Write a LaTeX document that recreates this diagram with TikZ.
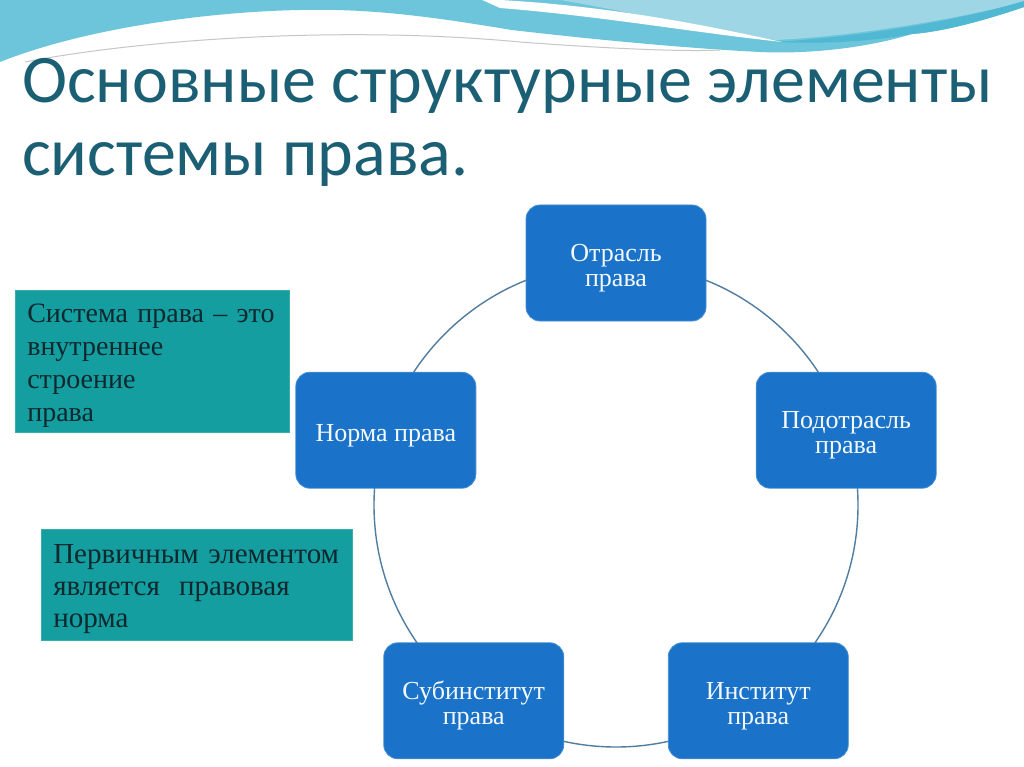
\documentclass[tikz,border=0pt]{standalone}
\usepackage{fontspec}
\usetikzlibrary{calc}
\setmainfont{Liberation Serif}
\newfontfamily\titlefont{Carlito}
\newcommand{\topstrut}[1]{\rule{0pt}{#1}}
\definecolor{boxblue}{RGB}{26,115,200}
\definecolor{tealbox}{RGB}{20,158,160}
\definecolor{tealtext}{RGB}{14,40,46}
\definecolor{titlecol}{RGB}{26,95,115}
\definecolor{ringcol}{RGB}{80,125,160}
\definecolor{waveA}{RGB}{108,197,218}
\definecolor{waveB}{RGB}{158,214,230}
\definecolor{waveC}{RGB}{80,184,210}
\begin{document}
\begin{tikzpicture}[x=1pt,y=-1pt,
  elem/.style={draw=boxblue!80!white, line width=0.8pt, fill=boxblue, rounded corners=14pt,
    minimum width=180pt, minimum height=116pt, text=white!95!boxblue, align=center,
    font=\fontsize{26}{25}\selectfont, inner sep=0pt},
  note/.style={fill=tealbox, draw=tealbox!85!white, line width=0.6pt, text=tealtext, align=left,
    inner xsep=12pt, inner ysep=0pt, anchor=north west},
  ring/.style={draw=ringcol, line width=1.4pt},
  titletext/.style={text=titlecol, font=\titlefont\fontsize{68}{68}\selectfont, anchor=base west, inner sep=0pt}
]
\useasboundingbox (0,0) rectangle (1024,767);
\fill[white] (0,0) rectangle (1024,767);
% waves
\fill[waveA] (0,0) -- (1024,0) -- (1024,7) .. controls (980,22) and (940,32) .. (912,34)
  .. controls (860,50) and (800,54) .. (760,52) .. controls (680,48) and (580,38) .. (512,30)
  .. controls (450,20) and (380,8) .. (300,10) .. controls (200,12) and (80,30) .. (0,62) -- cycle;
\fill[waveB] (560,0) -- (1024,0) -- (1024,2) .. controls (960,18) and (860,36) .. (775,40)
  .. controls (700,28) and (620,10) .. (560,0) -- cycle;
\fill[waveC] (640,0) -- (1024,0) -- (1024,7) .. controls (980,22) and (940,32) .. (912,34)
  .. controls (870,42) and (820,44) .. (775,42) .. controls (870,36) and (960,20) .. (1024,1) -- (1024,0) -- cycle;
\fill[white] (480,-1) .. controls (600,4) and (700,24) .. (782,42)
  .. controls (690,32) and (600,16) .. (500,8) -- (480,-1) -- cycle;
\draw[gray!45, line width=1pt] (25,62) .. controls (150,38) and (350,26) .. (520,42) .. controls (600,48) and (680,52) .. (720,50);
% title
\node[titletext] (t1) at (22,103) {Основные структурные элементы};
\node[titletext] (t2) at (22,176) {системы права.};
% ring
\coordinate (hub) at (616,505);
\draw[ring] (hub) circle[radius=242];
\node[elem] (otr) at ($(hub)+(-90:242)$) {\topstrut{28pt}Отрасль\\права};
\node[elem] (podotr) at ($(hub)+(-18:242)$) {\topstrut{28pt}Подотрасль\\права};
\node[elem] (inst) at ($(hub)+(54:242)$) {\topstrut{28pt}Институт\\права};
\node[elem] (subinst) at ($(hub)+(126:242)$) {\topstrut{28pt}Субинститут\\права};
\node[elem] (norma) at ($(hub)+(198:242)$) {\topstrut{28pt}Норма права};
% notes
\node[note, font=\fontsize{28}{33}\selectfont, minimum width=274pt, minimum height=142pt, text width=250pt] (n1) at (15,290)
  {\topstrut{28pt}Система права – это\\внутреннее\\строение\\права};
\node[note, font=\fontsize{29}{32}\selectfont, minimum width=311pt, minimum height=111pt, text width=287pt] (n2) at (41,529)
  {\topstrut{27pt}Первичным элементом\\является\ \ правовая\\норма};
\end{tikzpicture}
\end{document}
